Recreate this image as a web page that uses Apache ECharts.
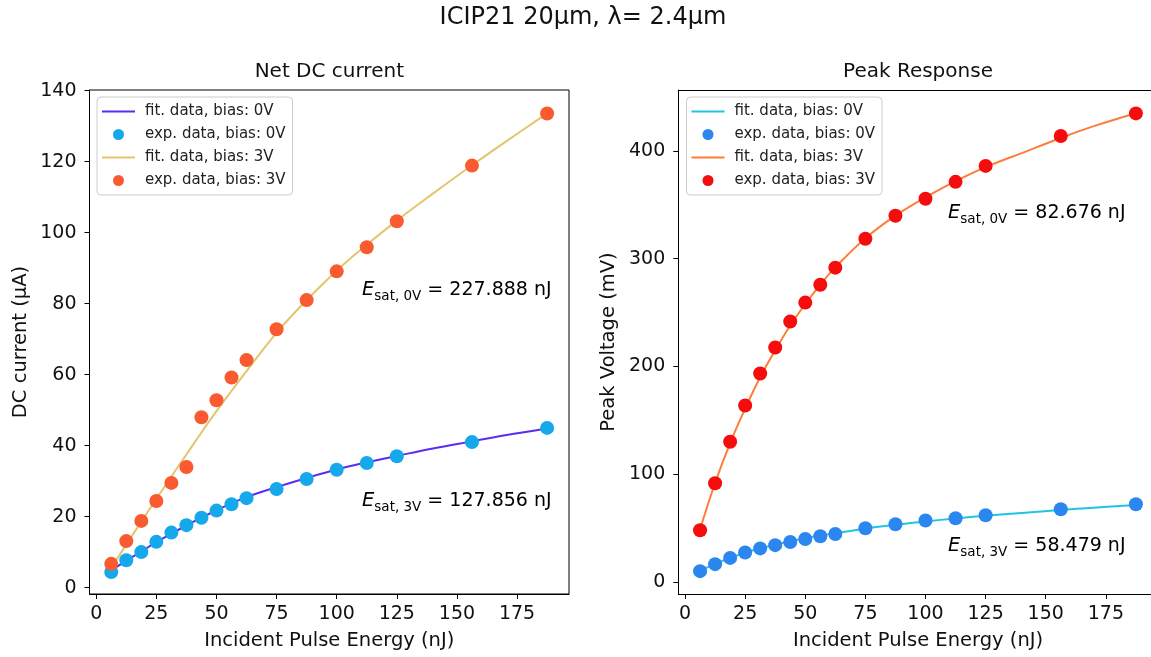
<!DOCTYPE html>
<html>
<head>
<meta charset="utf-8">
<script src="https://cdn.jsdelivr.net/npm/echarts@6/dist/echarts.min.js"></script>
<style>html,body{margin:0;padding:0;background:#fff}#c{width:1151px;height:657px}</style>
</head>
<body>
<div id="c"></div>
<script>
// ---- data ----
const energy = [6.25, 12.5, 18.75, 25, 31.25, 37.5, 43.75, 50, 56.25, 62.5, 75, 87.5, 100, 112.5, 125, 156.25, 187.5];
const dcExp0V = [4.4, 7.7, 10.0, 12.9, 15.5, 17.6, 19.7, 21.7, 23.5, 25.2, 27.8, 30.6, 33.2, 35.1, 37.0, 41.0, 45.0];
const dcExp3V = [6.7, 13.1, 18.8, 24.4, 29.5, 34.0, 48.0, 52.8, 59.2, 64.1, 72.8, 81.0, 89.1, 95.9, 103.2, 118.9, 133.6];
const fitX = [6.25, 12.5, 18.75, 25, 31.25, 37.5, 43.75, 50, 56.25, 62.5, 75, 87.5, 100, 112.5, 125, 140, 156.25, 170, 187.5];
const dcFit0V = [4.8, 7.6, 10.2, 12.8, 15.2, 17.5, 19.7, 21.8, 23.7, 25.5, 28.3, 30.9, 33.3, 35.3, 37.1, 39.2, 41.2, 42.9, 44.8];
const dcFit3V = [5.6, 12.1, 18.6, 25.0, 31.3, 37.5, 43.7, 49.7, 55.4, 61.0, 71.8, 81.0, 89.3, 96.6, 103.4, 111.0, 119.0, 125.5, 133.6];
const pkExp0V = [10.2, 16.7, 22.5, 27.5, 31.3, 34.3, 37.2, 40.0, 42.6, 44.6, 50.0, 53.7, 57.2, 59.3, 62.0, 67.6, 72.2];
const pkExp3V = [48.1, 91.7, 130.2, 163.9, 193.5, 217.6, 241.7, 259.3, 275.9, 291.7, 318.5, 339.8, 355.6, 371.3, 386.1, 413.9, 434.8];
const pkFit0V = [10.5, 17.0, 22.5, 27.3, 31.3, 34.8, 37.9, 40.7, 43.2, 45.4, 49.6, 53.1, 56.3, 59.1, 61.6, 64.2, 66.9, 69.0, 71.6];
const pkFit3V = [49, 92, 129, 161, 190, 215, 238, 258, 276, 292, 319, 340, 357, 372, 385, 398, 412, 423, 435];
const xTicks = [0, 25, 50, 75, 100, 125, 150, 175];
const yTicksL = [0, 20, 40, 60, 80, 100, 120, 140];
const yTicksR = [0, 100, 200, 300, 400];
const legendText = ['fit. data, bias: 0V', 'exp. data, bias: 0V', 'fit. data, bias: 3V', 'exp. data, bias: 3V'];
const mainTitle = 'ICIP21 20μm, λ= 2.4μm';
const subTitles = ['Net DC current', 'Peak Response'];
const annotations = [
  ['0V', '227.888'], ['3V', '127.856'], ['0V', '82.676'], ['3V', '58.479']
];

// ---- helpers ----
const FONT = 'DejaVu Sans';
const zip = (xs, ys) => xs.map((x, i) => [x, ys[i]]);
const nameMap = {};
['L', 'R'].forEach(p => {
  nameMap[p + 'fit0'] = legendText[0];
  nameMap[p + 'exp0'] = legendText[1];
  nameMap[p + 'fit3'] = legendText[2];
  nameMap[p + 'exp3'] = legendText[3];
});
const LINE_ICON = 'path://M0,0L66,0L66,4L0,4Z';
const X_MIN = -2.8, X_MAX = 196.6;

function xAxis(idx) {
  return {
    type: 'value', gridIndex: idx, min: X_MIN, max: X_MAX,
    name: 'Incident Pulse Energy (nJ)', nameLocation: 'middle', nameGap: 37,
    nameTextStyle: { fontFamily: FONT, fontSize: 19.5, color: '#111' },
    axisLine: { show: true, onZero: false, lineStyle: { color: '#000', width: 1 } },
    axisTick: { show: true, length: 5, lineStyle: { color: '#000' }, customValues: xTicks },
    axisLabel: { fontFamily: FONT, fontSize: 19, color: '#111', margin: 11, customValues: xTicks },
    splitLine: { show: false }
  };
}
function topFrame(idx) {
  return {
    type: 'value', gridIndex: idx, position: 'top', min: X_MIN, max: X_MAX,
    axisLine: { show: true, onZero: false, lineStyle: { color: '#000', width: 1 } },
    axisTick: { show: false }, axisLabel: { show: false }, splitLine: { show: false }
  };
}
function yAxis(idx, min, max, ticks, name) {
  return {
    type: 'value', gridIndex: idx, min: min, max: max,
    name: name, nameLocation: 'middle', nameGap: 59, nameRotate: 90,
    nameTextStyle: { fontFamily: FONT, fontSize: 19.5, color: '#111' },
    axisLine: { show: true, onZero: false, lineStyle: { color: '#000', width: 1 } },
    axisTick: { show: true, length: 5, lineStyle: { color: '#000' }, customValues: ticks },
    axisLabel: { fontFamily: FONT, fontSize: 19, color: '#111', margin: 13, customValues: ticks },
    splitLine: { show: false }
  };
}
function lineSeries(name, idx, data, color) {
  return { name: name, type: 'line', xAxisIndex: idx, yAxisIndex: idx, data: data,
    smooth: 0.4, symbol: 'none', legendIcon: LINE_ICON,
    lineStyle: { color: color, width: 2 }, itemStyle: { color: color }, z: 2 };
}
function scatterSeries(name, idx, data, color) {
  return { name: name, type: 'scatter', xAxisIndex: idx, yAxisIndex: idx, data: data,
    symbol: 'circle', symbolSize: 14, legendIcon: 'circle', itemStyle: { color: color, opacity: 1 }, z: 3 };
}
function legend(left, names) {
  return {
    orient: 'vertical', left: left, top: 97,
    data: names.map((n, i) => ({ name: n, icon: i % 2 === 0 ? LINE_ICON : 'circle' })),
    itemWidth: 33, itemHeight: 11, itemGap: 8,
    padding: [7, 7, 7, 5],
    borderColor: '#cccccc', borderWidth: 1, borderRadius: 4,
    backgroundColor: 'rgba(255,255,255,0.85)',
    textStyle: { fontFamily: FONT, fontSize: 15, color: '#222', padding: [0, 0, 0, 5] },
    formatter: n => nameMap[n], selectedMode: false
  };
}
function annot(x, y, pair) {
  return {
    type: 'text', x: x, y: y,
    style: {
      text: '{e|E}{s|sat, ' + pair[0] + '}{t| = ' + pair[1] + ' nJ}',
      textVerticalAlign: 'middle', textAlign: 'left',
      rich: {
        e: { fontFamily: FONT, fontSize: 19.5, fontStyle: 'italic', color: '#111', lineHeight: 26, verticalAlign: 'middle' },
        s: { fontFamily: FONT, fontSize: 13.5, color: '#111', lineHeight: 14, verticalAlign: 'bottom' },
        t: { fontFamily: FONT, fontSize: 19, color: '#111', lineHeight: 26, verticalAlign: 'middle' }
      }
    }
  };
}

const colL = { fit0: '#5b2cf2', exp0: '#15a8ea', fit3: '#e4c46c', exp3: '#f95a2f' };
const colR = { fit0: '#1fc6e2', exp0: '#2b86ef', fit3: '#ff7d3a', exp3: '#f50c0c' };
const bigBounds = { left: -200, right: -200, top: -200, bottom: -200 };

const option = {
  animation: false,
  backgroundColor: '#ffffff',
  grid: [
    { left: 89.5, top: 90, width: 479.5, height: 504, outerBoundsMode: 'none', outerBounds: bigBounds, show: true, borderColor: '#000', borderWidth: 1, backgroundColor: 'transparent' },
    { left: 678.3, top: 90, width: 479.5, height: 504, outerBoundsMode: 'none', outerBounds: bigBounds, show: false }
  ],
  xAxis: [xAxis(0), xAxis(1), topFrame(1)],
  yAxis: [
    yAxis(0, -1.8, 140.2, yTicksL, 'DC current (μA)'),
    yAxis(1, -11, 456.5, yTicksR, 'Peak Voltage (mV)')
  ],
  legend: [
    legend(97, ['Lfit0', 'Lexp0', 'Lfit3', 'Lexp3']),
    legend(686.5, ['Rfit0', 'Rexp0', 'Rfit3', 'Rexp3'])
  ],
  series: [
    lineSeries('Lfit0', 0, zip(fitX, dcFit0V), colL.fit0),
    scatterSeries('Lexp0', 0, zip(energy, dcExp0V), colL.exp0),
    lineSeries('Lfit3', 0, zip(fitX, dcFit3V), colL.fit3),
    scatterSeries('Lexp3', 0, zip(energy, dcExp3V), colL.exp3),
    lineSeries('Rfit0', 1, zip(fitX, pkFit0V), colR.fit0),
    scatterSeries('Rexp0', 1, zip(energy, pkExp0V), colR.exp0),
    lineSeries('Rfit3', 1, zip(fitX, pkFit3V), colR.fit3),
    scatterSeries('Rexp3', 1, zip(energy, pkExp3V), colR.exp3)
  ],
  graphic: [
    { type: 'text', x: 583, y: 18, style: { text: mainTitle, fontFamily: FONT, fontSize: 24, fill: '#111', textAlign: 'center', textVerticalAlign: 'middle' } },
    { type: 'text', x: 329.3, y: 72, style: { text: subTitles[0], fontFamily: FONT, fontSize: 20, fill: '#111', textAlign: 'center', textVerticalAlign: 'middle' } },
    { type: 'text', x: 918, y: 72, style: { text: subTitles[1], fontFamily: FONT, fontSize: 20, fill: '#111', textAlign: 'center', textVerticalAlign: 'middle' } },
    annot(362, 290, annotations[0]),
    annot(362, 501, annotations[1]),
    annot(948, 213, annotations[2]),
    annot(948, 546, annotations[3])
  ]
};
const chart = echarts.init(document.getElementById('c'), null, { renderer: 'canvas' });
chart.setOption(option);
</script>
</body>
</html>
